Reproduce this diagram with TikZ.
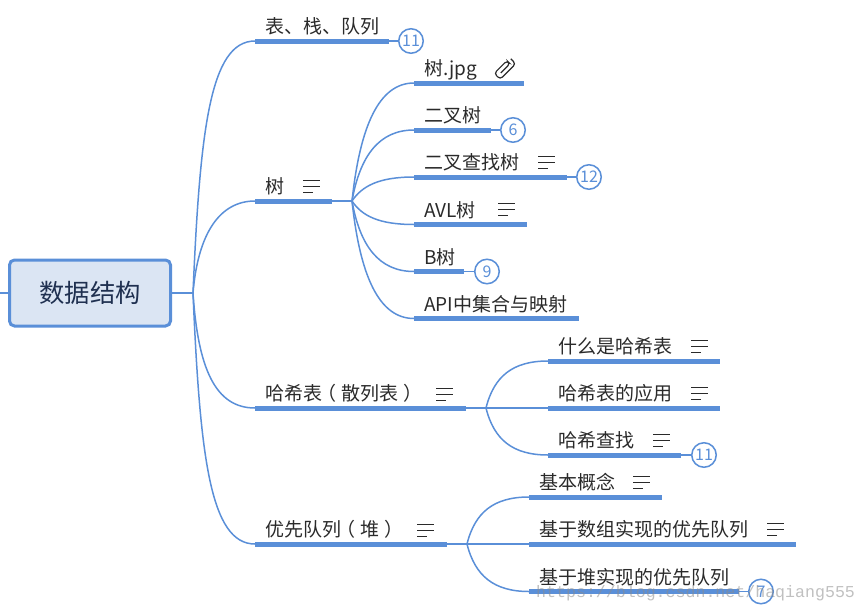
\documentclass[tikz,border=0pt]{standalone}
\usepackage{fontspec}
\setmainfont{Noto Sans CJK SC}
\newfontfamily\markfont{Liberation Mono}
\usepackage{tikz}

\definecolor{linecol}{HTML}{5A8FD8}
\definecolor{rootfill}{HTML}{DBE5F3}
\definecolor{rootink}{HTML}{1F3050}
\definecolor{textink}{HTML}{2A2A2A}

\tikzset{
  rootbox/.style={draw=linecol,line width=3pt,fill=rootfill,rounded corners=5pt,inner sep=0pt,
    minimum width=161pt,minimum height=66pt,text=rootink,font=\fontsize{25.3}{30}\selectfont},
  barline/.style={fill=linecol,inner sep=0pt,minimum height=5pt,anchor=west},
  topic/.style={anchor=base west,inner sep=0pt,text=textink,font=\fontsize{19}{23}\selectfont},
  badge/.style={circle,draw=linecol,fill=white,line width=1.5pt,inner sep=0pt,minimum size=24.5pt,
    text=linecol,font=\fontsize{16}{18}\selectfont},
  branch/.style={draw=linecol,line width=1.5pt},
  noteicon/.pic={
    \draw[textink,line width=1.3pt] (0,-6) -- (17,-6);
    \draw[textink,line width=1.3pt] (0,0) -- (17,0);
    \draw[textink,line width=1.3pt] (0,6) -- (10,6);
  },
  clipicon/.pic={
    \draw[textink,line width=1.2pt,rounded corners=3.2pt,rotate=45]
      (-5,2) -- (8,2) -- (8,-2.4) -- (-10,-2.4) -- (-10,6) -- (12,6) -- (12,-1);
  }
}

\begin{document}
\begin{tikzpicture}[x=1pt,y=-1pt]
  \useasboundingbox (0,0) rectangle (867,613);

  % Wurzel
  \coordinate (leftend) at (0,293);
  \coordinate (hubroot) at (193,293);
  \node[rootbox] (root) at (90,293) {数据结构};
  \draw[branch] (leftend) -- (root.west);
  \draw[branch] (root.east) -- (hubroot);

  % erste Ebene
  \node[barline,minimum width=134pt] (stack) at (255,41) {};
  \node[barline,minimum width=77pt] (tree) at (255,201) {};
  \node[barline,minimum width=211pt] (hash) at (255,408) {};
  \node[barline,minimum width=192pt] (heap) at (255,544) {};
  \node[topic] (stacktext) at (265,33.5) {表、栈、队列};
  \node[topic] (treetext) at (265,193.5) {树};
  \node[topic] (hashtext) at (265,400.5) {哈希表\kern-5pt（\kern5pt散列表\kern5pt）};
  \node[topic] (heaptext) at (265,536.5) {优先队列\kern-5pt（\kern5pt堆\kern5pt）};
  \draw[branch] (hubroot) .. controls +(7,-163) and +(-45,0) .. (stack.west);
  \draw[branch] (hubroot) .. controls +(5,-60) and +(-35,0) .. (tree.west);
  \draw[branch] (hubroot) .. controls +(5,75) and +(-40,0) .. (hash.west);
  \draw[branch] (hubroot) .. controls +(7,163) and +(-45,0) .. (heap.west);

  % Baum
  \coordinate (hubtree) at (352,201);
  \node[barline,minimum width=110pt] (treefile) at (414,83) {};
  \node[barline,minimum width=77pt] (binary) at (414,130) {};
  \node[barline,minimum width=153pt] (search) at (414,177) {};
  \node[barline,minimum width=113pt] (avl) at (414,224.5) {};
  \node[barline,minimum width=50pt] (btree) at (414,271.5) {};
  \node[barline,minimum width=165pt] (api) at (414,318.5) {};
  \node[topic] (treefiletext) at (424,75.5) {树.jpg};
  \node[topic] (binarytext) at (424,122.5) {二叉树};
  \node[topic] (searchtext) at (424,169.5) {二叉查找树};
  \node[topic] (avltext) at (424,217) {AVL树};
  \node[topic] (btreetext) at (424,264) {B树};
  \node[topic] (apitext) at (424,311) {API中集合与映射};
  \draw[branch] (tree.east) -- (hubtree);
  \draw[branch] (hubtree) .. controls +(8,-75) and +(-35,0) .. (treefile.west);
  \draw[branch] (hubtree) .. controls +(8,-45) and +(-35,0) .. (binary.west);
  \draw[branch] (hubtree) .. controls +(10,-15) and +(-35,0) .. (search.west);
  \draw[branch] (hubtree) .. controls +(10,15) and +(-35,0) .. (avl.west);
  \draw[branch] (hubtree) .. controls +(8,45) and +(-35,0) .. (btree.west);
  \draw[branch] (hubtree) .. controls +(8,75) and +(-35,0) .. (api.west);

  % Hashtabelle
  \coordinate (hubhash) at (486,408);
  \node[barline,minimum width=172pt] (hashwhat) at (548,361) {};
  \node[barline,minimum width=172pt] (hashuse) at (548,408) {};
  \node[barline,minimum width=133pt] (hashfind) at (548,455) {};
  \node[topic] (hashwhattext) at (558,353.5) {什么是哈希表};
  \node[topic] (hashusetext) at (558,400.5) {哈希表的应用};
  \node[topic] (hashfindtext) at (558,447.5) {哈希查找};
  \draw[branch] (hash.east) -- (hubhash);
  \draw[branch] (hubhash) .. controls +(8,-32) and +(-35,0) .. (hashwhat.west);
  \draw[branch] (hubhash) -- (hashuse.west);
  \draw[branch] (hubhash) .. controls +(8,32) and +(-35,0) .. (hashfind.west);

  % Prioritaetswarteschlange
  \coordinate (hubheap) at (467,544);
  \node[barline,minimum width=133pt] (basics) at (529,497) {};
  \node[barline,minimum width=267pt] (arrayheap) at (529,544) {};
  \node[barline,minimum width=210pt] (treeheap) at (529,591.5) {};
  \node[topic] (basicstext) at (539,489.5) {基本概念};
  \node[topic] (arrayheaptext) at (539,536.5) {基于数组实现的优先队列};
  \node[topic] (treeheaptext) at (539,584) {基于堆实现的优先队列};
  \draw[branch] (heap.east) -- (hubheap);
  \draw[branch] (hubheap) .. controls +(8,-32) and +(-35,0) .. (basics.west);
  \draw[branch] (hubheap) -- (arrayheap.west);
  \draw[branch] (hubheap) .. controls +(8,32) and +(-35,0) .. (treeheap.west);

  % Zahlen an den Zweigen
  \node[badge] (stackcount) at (411,41) {11};
  \node[badge] (binarycount) at (513,130) {6};
  \node[badge] (searchcount) at (589,177) {12};
  \node[badge] (btreecount) at (487,271.5) {9};
  \node[badge] (hashfindcount) at (704,455) {11};
  \node[badge] (treeheapcount) at (761,591.5) {7};
  \draw[branch] (stack.east) -- (stackcount);
  \draw[branch] (binary.east) -- (binarycount);
  \draw[branch] (search.east) -- (searchcount);
  \draw[branch] (btree.east) -- (btreecount);
  \draw[branch] (hashfind.east) -- (hashfindcount);
  \draw[branch] (treeheap.east) -- (treeheapcount);

  % Symbole
  \pic at (303,186.5) {noteicon};
  \pic at (436,394.5) {noteicon};
  \pic at (417,530.5) {noteicon};
  \pic at (538,162.5) {noteicon};
  \pic at (498,209.5) {noteicon};
  \pic at (691,346.5) {noteicon};
  \pic at (691,393.5) {noteicon};
  \pic at (653,440.5) {noteicon};
  \pic at (633,482.5) {noteicon};
  \pic at (767,529.5) {noteicon};
  \pic at (503,68) {clipicon};

  % Wasserzeichen
  \node[anchor=west,inner sep=0pt,text=black!45,opacity=0.55,font=\markfont\fontsize{16.6}{18}\selectfont]
    (watermark) at (536,593) {https://blog.csdn.net/haqiang555};
\end{tikzpicture}
\end{document}
